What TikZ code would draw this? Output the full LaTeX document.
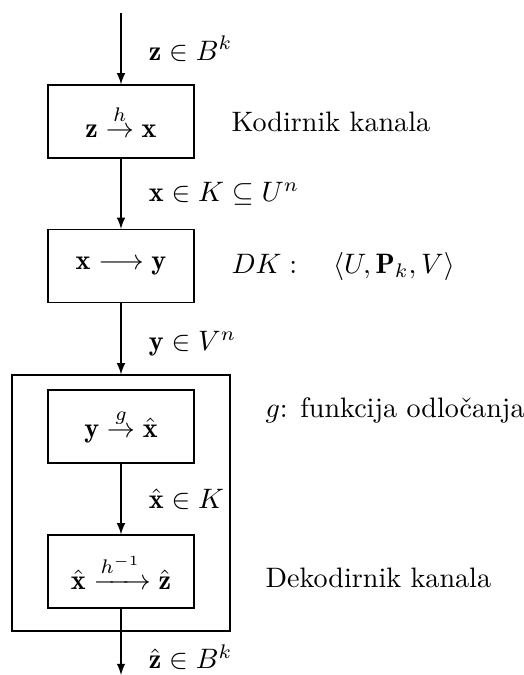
\documentclass[tikz,border=0pt]{standalone}
\usepackage{amsmath,amssymb}
\usepackage{fontspec}
\usetikzlibrary{positioning,arrows}

\begin{document}
\begin{tikzpicture}[x=0.0125cm,y=-0.0125cm,>=latex,
	blok/.style={draw, minimum width=1.825cm, minimum height=0.9125cm, inner sep=0pt},
	oznaka/.style={right=0.225cm},
	opis/.style={anchor=west, inner sep=0pt}]

	\useasboundingbox (0,0) rectangle (524,675);

	\def\xL{121}
	
	% kodirnik, kanal
	\coordinate (vhod) at (\xL,13);
	\node[blok] (kod) at (\xL,121.5) {$\mathbf{z}\stackrel{h}{\to}\mathbf{x}$};
	\node[blok] (dk) at (\xL,266) {$\mathbf{x}\longrightarrow\mathbf{y}$};
	
	% dekodirnik
	\node[draw, minimum width=2.725cm, minimum height=3.2cm] (dek) at (\xL,503) {};
	\node[blok] (odl) at (\xL,426.5) {$\mathbf{y}\stackrel{g}{\to}\hat{\mathbf{x}}$};
	\node[blok] (inv) at (\xL,571.5) {$\hat{\mathbf{x}}\xrightarrow{h^{-1}}\hat{\mathbf{z}}$};
	\coordinate (izhod) at (\xL,675);
	
	% povezave
	\draw[->] (vhod) -- node[oznaka] {$\mathbf{z}\in B^k$} (kod);
	\draw[->] (kod) -- node[oznaka] {$\mathbf{x}\in K\subseteq U^n$} (dk);
	\draw[->] (dk) -- node[oznaka, pos=0.57] {$\mathbf{y}\in V^n$} (dek.north);
	\draw[->] (odl) -- node[oznaka] {$\hat{\mathbf{x}}\in K$} (inv);
	\draw[->] (inv) -- node[oznaka, pos=0.73] {$\hat{\mathbf{z}}\in B^k$} (izhod);
	
	% opisi
	\node[opis] at (231,121.5) {Kodirnik kanala};
	\node[opis] at (231,266) {$DK:\quad\langle U,\mathbf{P}_k,V\rangle$};
	\node[opis] at (265,410) {$g$: funkcija odločanja};
	\node[opis] at (265,578) {Dekodirnik kanala};

\end{tikzpicture}
\end{document}
